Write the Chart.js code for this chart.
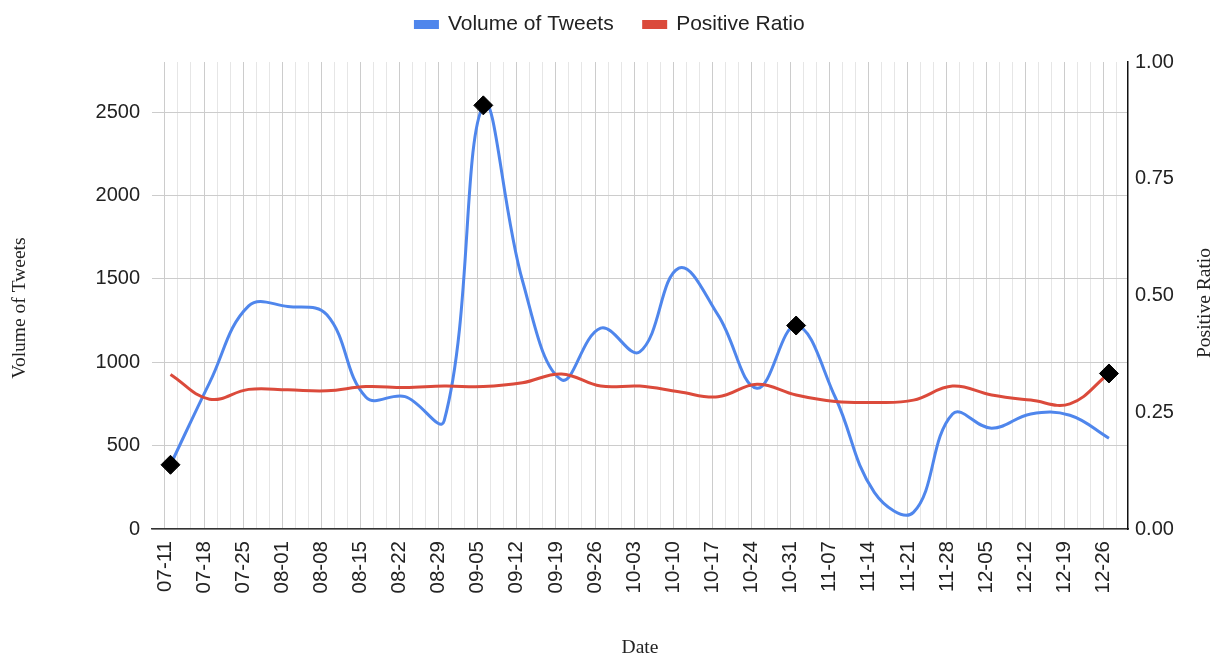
<!DOCTYPE html>
<html>
<head>
<meta charset="utf-8">
<script src="https://cdn.jsdelivr.net/npm/chart.js@4.4.1/dist/chart.umd.min.js"></script>
<style>
  html, body { margin: 0; padding: 0; background: #fff; }
  #wrap { width: 1220px; height: 658px; position: relative; }
</style>
</head>
<body>
<div id="wrap"><canvas id="chart"></canvas></div>
<script>
// weekly labels on the date axis
const weekLabels = ['07-11', '07-18', '07-25', '08-01', '08-08', '08-15', '08-22', '08-29', '09-05',
    '09-12', '09-19', '09-26', '10-03', '10-10', '10-17', '10-24', '10-31', '11-07', '11-14',
    '11-21', '11-28', '12-05', '12-12', '12-19', '12-26'];

// tweets per week
const tweetVolume = [385, 878, 1338, 1334, 1284, 790, 794, 650, 2540, 1490, 895, 1204, 1062,
    1564, 1284, 844, 1220, 790, 220, 100, 690, 604, 690, 682, 544];

// share of positive tweets per week
const positiveRatio = [0.331, 0.278, 0.299, 0.298, 0.296, 0.305, 0.303, 0.306, 0.305, 0.313,
    0.332, 0.306, 0.306, 0.294, 0.283, 0.310, 0.287, 0.273, 0.271, 0.276, 0.306, 0.287,
    0.276, 0.268, 0.333];

// weeks highlighted with a diamond
const volumeMarkers = [0, 8, 16];
const ratioMarkers = [24];

const volumeTicks = [0, 500, 1000, 1500, 2000, 2500];
const ratioTicks = [0, 0.25, 0.5, 0.75, 1];

// each point is dated one day after its week label
const dayOffset = 1;

const sans = 'Liberation Sans, Arial, sans-serif';
const serif = 'Liberation Serif, Times New Roman, serif';

function toPoints(values) {
    return values.map((v, i) => ({ x: i + dayOffset / 7, y: v }));
}

// minor gridlines: two between each weekly label
const gridWeeks = [];
weekLabels.forEach((_, i) => {
    gridWeeks.push(i, i + 1 / 3, i + 2 / 3);
});

function isWeek(v) {
    return Math.abs(v - Math.round(v)) < 1e-6;
}

// enlarge legend box so the plot starts lower
const legendSpace = {
    id: 'legendSpace',
    beforeInit(chart) {
        const fit = chart.legend.fit;
        chart.legend.fit = function () {
            fit.bind(chart.legend)();
            this.height = 78;
        };
    }
};

// y axis titles, both reading bottom to top
const sideTitles = {
    id: 'sideTitles',
    afterDraw(chart) {
        const ctx = chart.ctx;
        [['Volume of Tweets', 20, 308], ['Positive Ratio', 1205, 303]].forEach(([text, x, y]) => {
            ctx.save();
            ctx.fillStyle = '#222';
            ctx.font = '19.5px ' + serif;
            ctx.textAlign = 'center';
            ctx.textBaseline = 'middle';
            ctx.translate(x, y);
            ctx.rotate(-Math.PI / 2);
            ctx.fillText(text, 0, 0);
            ctx.restore();
        });
    }
};

new Chart(document.getElementById('chart'), {
    type: 'line',
    data: {
        datasets: [{
            label: 'Volume of Tweets',
            data: toPoints(tweetVolume),
            yAxisID: 'y',
            borderColor: '#4f86ec',
            backgroundColor: '#4f86ec',
            borderWidth: 3,
            tension: 0.4,
            order: 1,
            pointStyle: 'rectRot',
            pointRadius: ctx => volumeMarkers.includes(ctx.dataIndex) ? 9.5 : 0,
            pointBackgroundColor: '#000',
            pointBorderColor: '#000',
            pointBorderWidth: 1,
            pointHoverRadius: 0
        }, {
            label: 'Positive Ratio',
            data: toPoints(positiveRatio),
            yAxisID: 'y1',
            borderColor: '#db4a3b',
            backgroundColor: '#db4a3b',
            borderWidth: 3,
            tension: 0.4,
            order: 0,
            pointStyle: 'rectRot',
            pointRadius: ctx => ratioMarkers.includes(ctx.dataIndex) ? 9.5 : 0,
            pointBackgroundColor: '#000',
            pointBorderColor: '#000',
            pointBorderWidth: 1,
            pointHoverRadius: 0
        }]
    },
    options: {
        responsive: true,
        maintainAspectRatio: false,
        animation: false,
        events: [],
        layout: { padding: { top: -16, left: 0, right: 0, bottom: 0 } },
        plugins: {
            tooltip: { enabled: false },
            legend: {
                position: 'top',
                align: 'center',
                labels: {
                    boxWidth: 22,
                    boxHeight: 6,
                    padding: 30,
                    color: '#222',
                    font: { family: sans, size: 21 },
                    sort: (a, b) => a.datasetIndex - b.datasetIndex
                }
            }
        },
        scales: {
            x: {
                type: 'linear',
                position: 'bottom',
                min: -0.33,
                max: 24.63,
                afterBuildTicks: scale => {
                    scale.ticks = gridWeeks.filter(v => v <= 24.63).map(v => ({ value: v }));
                },
                afterFit: scale => { scale.height = 129; },
                grid: {
                    drawTicks: false,
                    color: ctx => ctx.tick && isWeek(ctx.tick.value) ? '#cccccc' : '#e6e6e6',
                    lineWidth: 1
                },
                border: { display: true, color: '#333', width: 1.5 },
                ticks: {
                    autoSkip: false,
                    minRotation: 90,
                    maxRotation: 90,
                    padding: 12,
                    color: '#222',
                    font: { family: sans, size: 20.5 },
                    callback: v => isWeek(v) ? weekLabels[Math.round(v)] : ''
                },
                title: {
                    display: true,
                    text: 'Date',
                    color: '#222',
                    font: { family: serif, size: 19.5, lineHeight: 1 },
                    padding: { top: 0, bottom: 0 }
                }
            },
            y: {
                type: 'linear',
                position: 'left',
                min: 0,
                max: 2800,
                afterBuildTicks: scale => {
                    scale.ticks = volumeTicks.map(v => ({ value: v }));
                },
                afterFit: scale => { scale.width = 152; },
                grid: { drawTicks: false, color: '#cccccc', lineWidth: 1 },
                border: { display: false },
                ticks: {
                    padding: 12,
                    color: '#222',
                    font: { family: sans, size: 20 },
                    callback: v => String(v)
                }
            },
            y1: {
                type: 'linear',
                position: 'right',
                min: 0,
                max: 1,
                afterBuildTicks: scale => {
                    scale.ticks = ratioTicks.map(v => ({ value: v }));
                },
                afterFit: scale => { scale.width = 92; },
                grid: { display: false, drawTicks: false },
                border: { display: true, color: '#111', width: 1.5 },
                ticks: {
                    padding: 7,
                    color: '#222',
                    font: { family: sans, size: 20 },
                    callback: v => Number(v).toFixed(2)
                }
            }
        }
    },
    plugins: [legendSpace, sideTitles]
});
</script>
</body>
</html>
